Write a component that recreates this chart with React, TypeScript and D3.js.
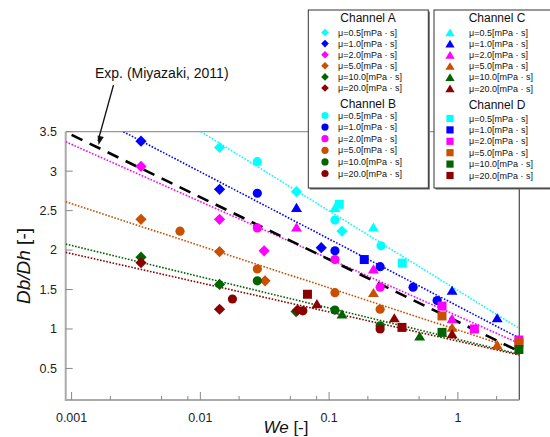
import React from "react";
import * as d3 from "d3";

const width = 550;
const height = 437;
const plot = { left: 65.7, right: 519.3, top: 131.7, bottom: 400 };
const font = "'Liberation Sans', Arial, sans-serif";

const viscosities = ["0.5", "1.0", "2.0", "5.0", "10.0", "20.0"];
const muColors = ["#00ffff", "#0000ff", "#ff00ff", "#c85000", "#006400", "#8b0000"];

// [viscosity index, We, Db/Dh]
const channelA: [number, number, number][] = [
  [0, 0.0141, 3.3], [0, 0.0558, 2.74], [0, 0.126, 2.24],
  [1, 0.00346, 3.38], [1, 0.0141, 2.77], [1, 0.0869, 2.03],
  [2, 0.00346, 3.06], [2, 0.0141, 2.39], [2, 0.0313, 1.99],
  [3, 0.00346, 2.39], [3, 0.0141, 1.98], [3, 0.0318, 1.61],
  [4, 0.00346, 1.91], [4, 0.0141, 1.565], [4, 0.0554, 1.22],
  [5, 0.00346, 1.84], [5, 0.0141, 1.25], [5, 0.057, 1.24],
];
const channelB: [number, number, number][] = [
  [0, 0.0277, 3.12], [0, 0.111, 2.38], [0, 0.253, 2.055],
  [1, 0.0277, 2.72], [1, 0.111, 1.99], [1, 0.249, 1.79], [1, 0.449, 1.53], [1, 0.69, 1.36],
  [2, 0.0277, 2.28], [2, 0.111, 1.88], [2, 0.249, 1.53],
  [3, 0.00695, 2.24], [3, 0.0277, 1.76], [3, 0.111, 1.46], [3, 0.249, 1.25],
  [4, 0.0277, 1.61], [4, 0.111, 1.24], [4, 0.249, 1.04],
  [5, 0.01775, 1.38], [5, 0.0625, 1.23], [5, 0.249, 1.0],
];
const channelC: [number, number, number][] = [
  [0, 0.111, 2.54], [0, 0.221, 2.29],
  [1, 0.0558, 2.54], [1, 0.902, 1.49], [1, 2.02, 1.14],
  [2, 0.0558, 2.29], [2, 0.221, 1.76], [2, 0.902, 1.13],
  [3, 0.221, 1.46], [3, 0.902, 1.02], [3, 2.02, 0.8],
  [4, 0.126, 1.19], [4, 0.505, 0.91],
  [5, 0.0804, 1.32], [5, 0.321, 1.14], [5, 0.902, 0.94],
];
const channelD: [number, number, number][] = [
  [0, 0.12, 2.58], [0, 0.37, 1.835],
  [1, 0.1875, 1.88],
  [2, 0.753, 1.29], [2, 1.343, 1.0], [2, 2.98, 0.86],
  [3, 0.753, 1.165], [3, 2.98, 0.825],
  [4, 0.753, 0.957], [4, 2.98, 0.74],
  [5, 0.0679, 1.44], [5, 0.368, 1.02],
];

// fitted lines per viscosity: two points [We, Db/Dh]
const fitLines: [number, number][][] = [
  [[0.0101, 3.5], [3, 1.007]],
  [[0.00252, 3.5], [3, 0.884]],
  [[0.0009, 3.373], [3, 0.817]],
  [[0.0009, 2.612], [3, 0.732]],
  [[0.0009, 2.076], [3, 0.68]],
  [[0.0009, 1.971], [3, 0.67]],
];
const expLine: [number, number][] = [[0.001, 3.46], [3, 0.715]];

const xTicks = [0.001, 0.002, 0.005, 0.008, 0.01, 0.02, 0.05, 0.08, 0.1, 0.2, 0.5, 0.8, 1, 2];
const xLabels = [0.001, 0.01, 0.1, 1];
const yTicks = [0.5, 1, 1.5, 2, 2.5, 3, 3.5];

const x = d3.scaleLog().domain([0.0009, 3]).range([plot.left, plot.right]);
const y = d3.scaleLinear().domain([0.1, 3.5]).range([plot.bottom, plot.top]);

type Shape = "diamond" | "circle" | "triangle" | "square";

function markerPath(shape: Shape, s: number): string {
  if (shape === "diamond") return `M0,${-s}L${s},0L0,${s}L${-s},0Z`;
  if (shape === "circle") return d3.symbol(d3.symbolCircle, Math.PI * s * s)() as string;
  if (shape === "triangle") return `M0,${-s * 0.9}L${s * 1.05},${s * 0.85}L${-s * 1.05},${s * 0.85}Z`;
  return `M${-s},${-s}h${2 * s}v${2 * s}h${-2 * s}Z`;
}

const channels: { name: string; data: [number, number, number][]; shape: Shape; size: number; lsize: number }[] = [
  { name: "Channel A", data: channelA, shape: "diamond", size: 5.6, lsize: 3.8 },
  { name: "Channel B", data: channelB, shape: "circle", size: 4.6, lsize: 3.6 },
  { name: "Channel C", data: channelC, shape: "triangle", size: 5.2, lsize: 4.4 },
  { name: "Channel D", data: channelD, shape: "square", size: 4.5, lsize: 3.6 },
];

const legendLayout = [
  { cx: 368, titleY: 22, markerX: 325, textX: 338, y0: 32.5, step: 11.1 },
  { cx: 368, titleY: 107.5, markerX: 325, textX: 338, y0: 115.5, step: 11.6 },
  { cx: 497, titleY: 22, markerX: 450, textX: 469, y0: 32.5, step: 11.2 },
  { cx: 497, titleY: 109, markerX: 450, textX: 469, y0: 118.5, step: 11.4 },
];

const line = d3.line<[number, number]>().x((d) => x(d[0])).y((d) => y(d[1]));

const App = () => {
  const ax = 113.5, ay = 85, bx = 98.5, by = 145;
  const ang = Math.atan2(by - ay, bx - ax);
  const head = [
    [bx, by],
    [bx - 9 * Math.cos(ang) + 3.2 * Math.sin(ang), by - 9 * Math.sin(ang) - 3.2 * Math.cos(ang)],
    [bx - 9 * Math.cos(ang) - 3.2 * Math.sin(ang), by - 9 * Math.sin(ang) + 3.2 * Math.cos(ang)],
  ];

  return (
    <svg width={width} height={height} style={{ position: "absolute", left: 0, top: 0, background: "#fff" }} fontFamily={font}>
      <defs>
        <clipPath id="plotClip">
          <rect x={plot.left} y={plot.top} width={plot.right - plot.left} height={plot.bottom - plot.top} />
        </clipPath>
      </defs>

      {/* frame */}
      <line x1={plot.left} x2={plot.right} y1={plot.top} y2={plot.top} stroke="#999" strokeWidth={1.2} />
      <line x1={plot.right} x2={plot.right} y1={plot.top} y2={plot.bottom} stroke="#555" strokeWidth={1.3} />
      <line x1={plot.left} x2={plot.left} y1={plot.top} y2={plot.bottom + 1} stroke="#aaa" strokeWidth={2} />
      <line x1={plot.left} x2={plot.right} y1={plot.bottom} y2={plot.bottom} stroke="#aaa" strokeWidth={2} />

      {/* x ticks (inward) */}
      {xTicks.map((t) => {
        const major = xLabels.includes(t);
        return (
          <line key={t} x1={x(t)} x2={x(t)} y1={plot.bottom} y2={plot.bottom - (major ? 8 : 4)} stroke="#888" strokeWidth={1} />
        );
      })}
      {xLabels.map((t) => (
        <text key={t} x={x(t)} y={422} textAnchor="middle" fontSize={12.5} fill="#222">
          {t}
        </text>
      ))}
      {yTicks.map((t) => (
        <g key={t}>
          <line x1={plot.left} x2={plot.left + 7} y1={y(t)} y2={y(t)} stroke="#888" strokeWidth={1} />
          <text x={57} y={y(t)} dy="0.35em" textAnchor="end" fontSize={12.5} fill="#222">
            {t}
          </text>
        </g>
      ))}

      {/* fit lines */}
      <g clipPath="url(#plotClip)">
        {fitLines.map((pts, i) => (
          <path key={i} d={line(pts) as string} fill="none" stroke={muColors[i]} strokeWidth={1.6} strokeDasharray="1.6 1.6" />
        ))}
        <path d={line(expLine) as string} fill="none" stroke="#000" strokeWidth={2.6} strokeDasharray="12 8" />
      </g>

      {/* data points */}
      {channels.map((ch) => (
        <g key={ch.name}>
          {ch.data.map(([mi, we, v], j) => (
            <path key={j} d={markerPath(ch.shape, ch.size)} transform={`translate(${x(we)},${y(v)})`} fill={muColors[mi]} />
          ))}
        </g>
      ))}

      {/* annotation */}
      <text x={95} y={77.5} fontSize={14} fill="#111">
        Exp. (Miyazaki, 2011)
      </text>
      <line x1={ax} y1={ay} x2={bx + 2 * Math.cos(ang)} y2={by - 4} stroke="#111" strokeWidth={1.3} />
      <polygon points={head.map((p) => p.join(",")).join(" ")} fill="#111" />

      {/* axis titles */}
      <text transform={`translate(30,266) rotate(-90)`} textAnchor="middle" fontSize={19} fill="#111">
        <tspan fontStyle="italic">Db/Dh</tspan> [-]
      </text>
      <text x={286} y={433} textAnchor="middle" fontSize={17} fill="#111">
        <tspan fontStyle="italic">We</tspan> [-]
      </text>

      {/* legend boxes */}
      {[
        { x0: 308.3, w: 120 },
        { x0: 434, w: 130 },
      ].map((b, i) => (
        <g key={i}>
          <rect x={b.x0 + 1.5} y={11.5} width={b.w} height={178} fill="#666" />
          <rect x={b.x0} y={10} width={b.w} height={178} fill="#fff" stroke="#333" strokeWidth={1} />
        </g>
      ))}
      {channels.map((ch, ci) => {
        const L = legendLayout[ci];
        return (
          <g key={ch.name}>
            <text x={L.cx} y={L.titleY} textAnchor="middle" fontSize={12} fill="#111">
              {ch.name}
            </text>
            {viscosities.map((mu, i) => (
              <g key={mu}>
                <path d={markerPath(ch.shape, ch.lsize)} transform={`translate(${L.markerX},${L.y0 + i * L.step})`} fill={muColors[i]} />
                <text x={L.textX} y={L.y0 + i * L.step} dy="0.35em" fontSize={9} fill="#111">
                  {`μ=${mu}[mPa · s]`}
                </text>
              </g>
            ))}
          </g>
        );
      })}
    </svg>
  );
};

export default App;
